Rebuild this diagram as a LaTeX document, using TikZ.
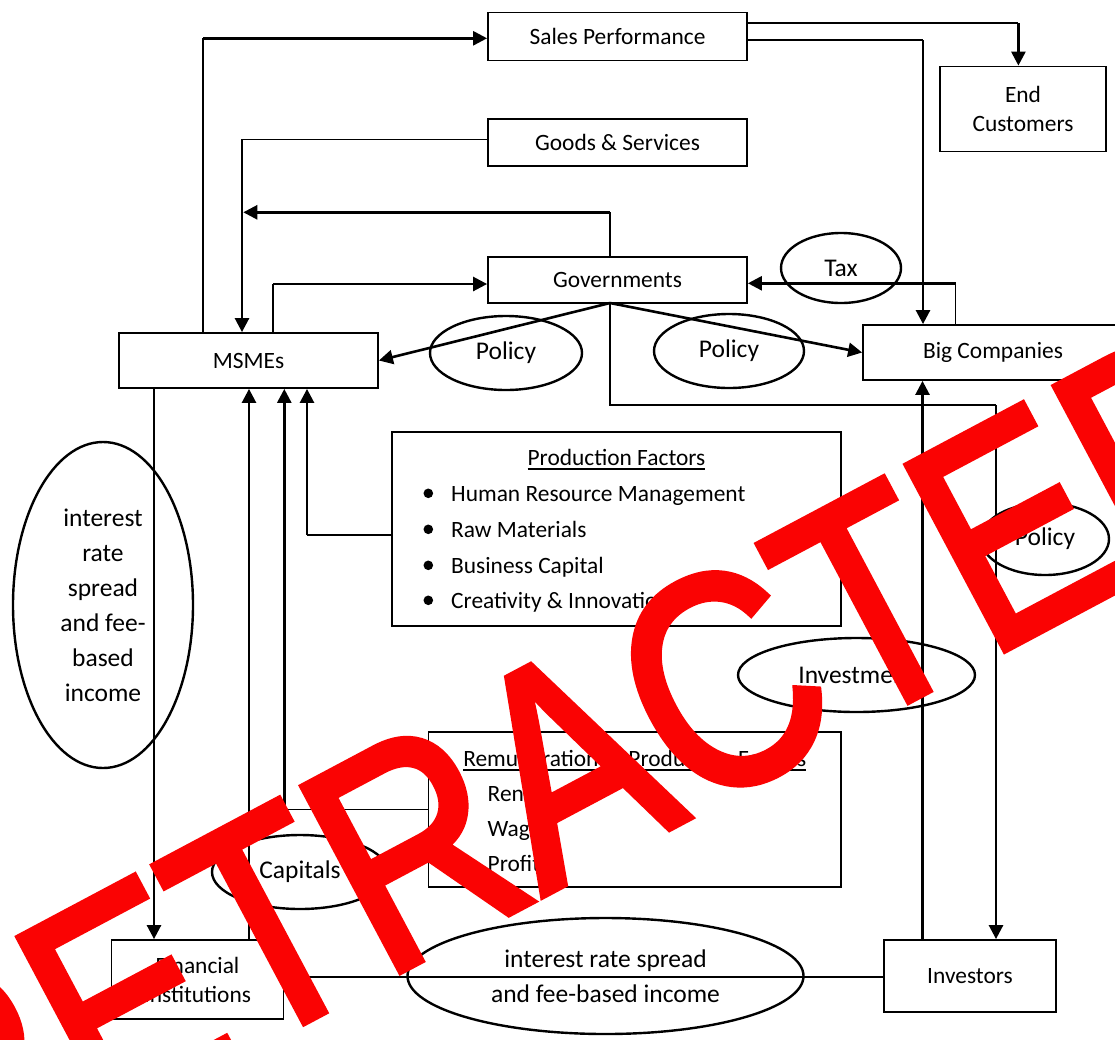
\documentclass[tikz,border=0pt]{standalone}
\usepackage{fontspec}
\usepackage{graphicx}
\setmainfont{Carlito}
\newfontfamily\wmfamily[FakeBold=2.5]{Liberation Sans}
\usetikzlibrary{arrows.meta,shapes.geometric}
\newcommand\boxfont{\fontsize{23.4}{29}\selectfont}
\newcommand\ellfont{\fontsize{25.5}{35}\selectfont}
\newcommand\wmfont{\wmfamily\fontsize{303}{303}\selectfont}
\newcommand\myul[1]{\setbox0=\hbox{#1}\rlap{\rule[-4pt]{\wd0}{1.5pt}}\box0}
\definecolor{wmred}{RGB}{250,3,3}
\begin{document}
\begin{tikzpicture}[x=1pt,y=-1pt,
  bx/.style={draw, rectangle, line width=1.8pt, inner sep=0pt, align=center, font=\boxfont},
  ell/.style={draw, ellipse, line width=2.4pt, inner sep=0pt, align=center, font=\ellfont},
  lthin/.style={line width=1.4pt},
  lthick/.style={line width=2.6pt},
  arr/.style={-{Triangle[length=14pt,width=14pt]}},
  txt/.style={inner sep=0pt, font=\boxfont, anchor=base west},
]
\useasboundingbox (0,0) rectangle (1115,1039);
\clip (0,0) rectangle (1115,1039);
\fill[white] (0,0) rectangle (1115,1039);

% boxes
\node[bx, minimum width=259pt, minimum height=48pt] (sp) at (617.5,36.5) {Sales Performance};
\node[bx, minimum width=259pt, minimum height=47pt] (gs) at (617.5,142.5) {Goods \& Services};
\node[bx, minimum width=259pt, minimum height=46pt] (gov) at (617.5,280) {Governments};
\node[bx, minimum width=166pt, minimum height=85pt] (ec) at (1023,109) {End\\Customers};
\node[bx, minimum width=260pt, minimum height=55pt] (bc) at (993,352.5) {Big Companies};
\node[bx, minimum width=259pt, minimum height=55pt] (ms) at (248.5,360.5) {MSMEs};
\node[bx, minimum width=449pt, minimum height=194pt] (pf) at (616.5,529) {};
\node[bx, minimum width=412.5pt, minimum height=155pt] (rem) at (634.75,809.5) {};
\node[bx, minimum width=172pt, minimum height=79pt] (fi) at (197.5,979.5) {Financial\\Institutions};
\node[bx, minimum width=172.4pt, minimum height=72pt] (inv) at (970,976) {Investors};

% ellipses
\node[ell, minimum width=120pt, minimum height=70pt] (tax) at (841,268) {Tax};
\node[ell, minimum width=152pt, minimum height=74pt] (pol1) at (506,353) {Policy};
\node[ell, minimum width=150pt, minimum height=74pt] (pol2) at (729,351) {Policy};
\node[ell, minimum width=128pt, minimum height=72pt] (pol3) at (1045,539) {Policy};
\node[ell, minimum width=180pt, minimum height=326pt] (irs1) at (103,605) {interest\\rate\\spread\\and fee-\\based\\income};
\node[ell, minimum width=176pt, minimum height=74pt] (cap) at (300,872) {Capitals};
\node[ell, minimum width=237pt, minimum height=74pt] (invst) at (856.5,675) {Investment};
\node[ell, minimum width=396pt, minimum height=116pt] (irs2) at (605.5,976) {interest rate spread\\and fee-based income};

% production factors content
\node[inner sep=0pt, font=\boxfont, anchor=base] (pft) at (616.5,465.7) {\myul{Production Factors}};
\node[txt] (pf1) at (451,501) {Human Resource Management};
\node[txt] (pf2) at (451,537) {Raw Materials};
\node[txt] (pf3) at (451,573) {Business Capital};
\node[txt] (pf4) at (451,608) {Creativity \& Innovation};
\fill (428.3,493.3) circle (4.8pt);
\fill (428.3,529.3) circle (4.8pt);
\fill (428.3,565.3) circle (4.8pt);
\fill (428.3,600.3) circle (4.8pt);

% remuneration content
\node[inner sep=0pt, font=\boxfont, anchor=base] (remt) at (634.75,766.5) {\myul{Remuneration of Production Factors}};
\node[txt] (r1) at (487.5,801.7) {Rent};
\node[txt] (r2) at (487.5,836.7) {Wage};
\node[txt] (r3) at (487.5,871.7) {Profit};

% connectors
\coordinate (c1) at (203,38.3);
\draw[lthin] (ms.north -| c1) -- (c1);
\draw[lthick,arr] (c1) -- (sp.west |- c1);

\coordinate (c2) at (242,139.3);
\draw[lthin] (gs.west |- c2) -- (c2);
\draw[lthick,arr] (c2) -- (ms.north -| c2);

\coordinate (c3) at (610,212.3);
\coordinate (c3e) at (243.3,212.3);
\draw[lthin] (gov.north -| c3) -- (c3);
\draw[lthick,arr] (c3) -- (c3e);

\coordinate (c4) at (273,284);
\draw[lthin] (ms.north -| c4) -- (c4);
\draw[lthick,arr] (c4) -- (gov.west |- c4);

\coordinate (gb) at (610,303);
\draw[lthick,arr] (gb) -- (ms.east);
\draw[lthick,arr] (gb) -- (bc.west);

\coordinate (c7) at (955.5,283.3);
\draw[lthin] (bc.north -| c7) -- (c7);
\draw[lthick,arr] (c7) -- (gov.east |- c7);

\coordinate (c8) at (923,40);
\draw[lthin] (sp.east |- c8) -- (c8);
\draw[lthick,arr] (c8) -- (bc.north -| c8);

\coordinate (c9) at (1018.4,23);
\draw[lthin] (sp.east |- c9) -- (c9);
\draw[lthick,arr] (c9) -- (ec.north -| c9);

\coordinate (c10a) at (610,405);
\coordinate (c10b) at (996,405);
\draw[lthin] (gov.south -| gb) -- (c10a) -- (c10b);
\draw[lthick,arr] (c10b) -- (inv.north -| c10b);

\coordinate (c11) at (922.5,700);
\draw[lthick,arr] (inv.north -| c11) -- (bc.south -| c11);

\coordinate (c12) at (154,700);
\draw[lthick,arr] (ms.south -| c12) -- (fi.north -| c12);

\coordinate (c13) at (249,700);
\draw[lthick,arr] (fi.north -| c13) -- (ms.south -| c13);

\coordinate (c14) at (284.3,809.5);
\draw[lthin] (rem.west |- c14) -- (c14);
\draw[lthick,arr] (c14) -- (ms.south -| c14);

\coordinate (c15) at (307,535);
\draw[lthin] (pf.west |- c15) -- (c15);
\draw[lthick,arr] (c15) -- (ms.south -| c15);

\coordinate (c16) at (500,976.7);
\draw[line width=2pt] (fi.east |- c16) -- (inv.west |- c16);

% watermark
\node[rotate=28, anchor=base west, inner sep=0pt, text=wmred, font=\wmfont] (wm) at (-62,1217) {\scalebox{0.83}[1]{RETRACTED}};
\end{tikzpicture}
\end{document}
